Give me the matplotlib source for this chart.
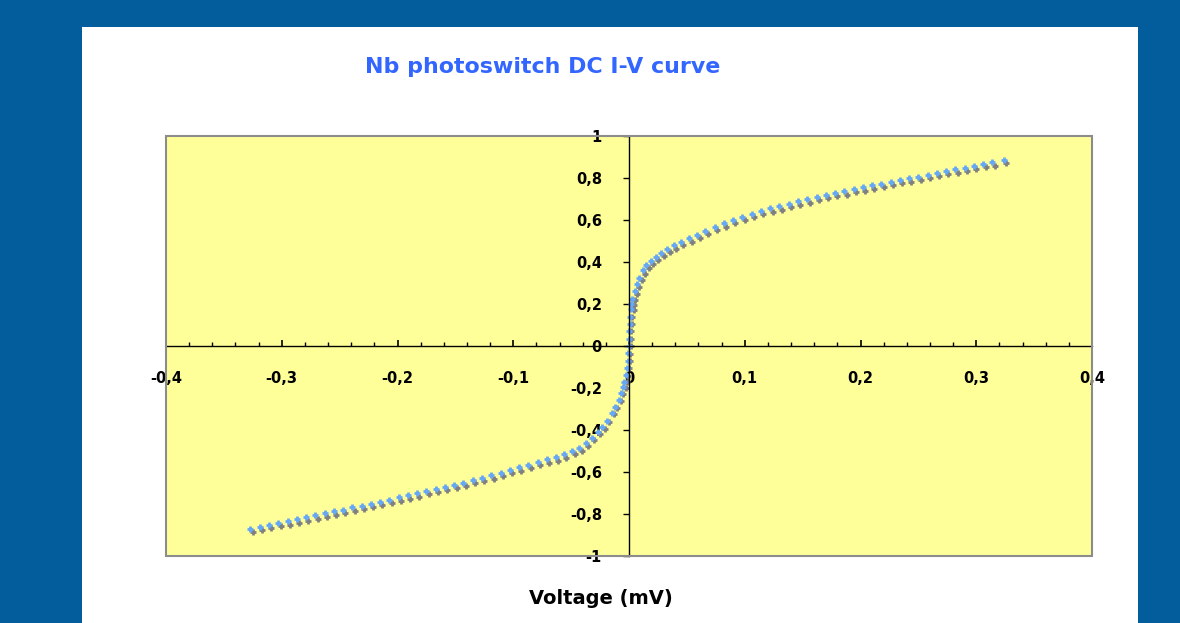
import matplotlib
matplotlib.use('Agg')
import matplotlib.pyplot as plt
from matplotlib.patches import Rectangle
from matplotlib.ticker import MultipleLocator, FuncFormatter

# sweep 1 (blue) : voltage (mV) / current
blue_v = [
    -0.327, -0.319, -0.311, -0.303, -0.295, -0.287, -0.279, -0.271, -0.263, -0.255,
    -0.247, -0.239, -0.231, -0.223, -0.215, -0.207, -0.199, -0.191, -0.183, -0.175,
    -0.167, -0.159, -0.151, -0.143, -0.135, -0.127, -0.119, -0.111, -0.103, -0.095,
    -0.087, -0.079, -0.071, -0.063, -0.056, -0.049, -0.043, -0.037, -0.032, -0.027,
    -0.023, -0.019, -0.015, -0.012, -0.009, -0.007, -0.005, -0.004, -0.003, -0.002,
    -0.001, -0.001,
    0.000, 0.000, 0.000, 0.001, 0.001, 0.002, 0.002, 0.003, 0.005, 0.007,
    0.009, 0.012, 0.015, 0.019, 0.023, 0.028, 0.033, 0.039,
    0.045, 0.052, 0.059, 0.066,
    0.074, 0.082, 0.090, 0.098, 0.106, 0.114, 0.122, 0.130, 0.138, 0.146,
    0.154, 0.162, 0.170, 0.178, 0.186, 0.194, 0.202, 0.210, 0.218, 0.226,
    0.234, 0.242, 0.250, 0.258, 0.266, 0.274, 0.282, 0.290, 0.298, 0.306,
    0.314, 0.324]
blue_i = [
    -0.870, -0.861, -0.852, -0.843, -0.834, -0.825, -0.816, -0.807, -0.797, -0.788,
    -0.779, -0.769, -0.760, -0.750, -0.741, -0.731, -0.721, -0.711, -0.701, -0.691,
    -0.681, -0.672, -0.661, -0.650, -0.638, -0.627, -0.615, -0.603, -0.591, -0.578,
    -0.566, -0.553, -0.540, -0.530, -0.515, -0.500, -0.484, -0.462, -0.438, -0.410,
    -0.385, -0.355, -0.320, -0.290, -0.255, -0.225, -0.195, -0.170, -0.140, -0.105,
    -0.070, -0.035,
    0.000, 0.035, 0.070, 0.105, 0.140, 0.175, 0.200, 0.225, 0.260, 0.295,
    0.325, 0.360, 0.385, 0.405, 0.425, 0.445, 0.462, 0.480,
    0.495, 0.512, 0.530, 0.548,
    0.567, 0.585, 0.602, 0.616, 0.630, 0.643, 0.655, 0.666, 0.678, 0.689,
    0.699, 0.709, 0.719, 0.728, 0.737, 0.747, 0.756, 0.765, 0.773, 0.782,
    0.790, 0.799, 0.807, 0.816, 0.824, 0.833, 0.841, 0.850, 0.858, 0.867,
    0.875, 0.886]

# sweep 2 (grey)
grey_v = [
    -0.325, -0.317, -0.309, -0.301, -0.293, -0.285, -0.277, -0.269, -0.261, -0.253,
    -0.245, -0.237, -0.229, -0.221, -0.213, -0.205, -0.197, -0.189, -0.181, -0.173,
    -0.165, -0.157, -0.149, -0.141, -0.133, -0.125, -0.117, -0.109, -0.101, -0.093,
    -0.085, -0.077, -0.069, -0.061, -0.054, -0.047, -0.041, -0.035, -0.030, -0.025,
    -0.021, -0.017, -0.013, -0.010, -0.007, -0.005, -0.003, -0.002, -0.001, 0.000,
    0.001, 0.001,
    0.002, 0.002, 0.002, 0.003, 0.003, 0.004, 0.004, 0.005, 0.007, 0.009,
    0.011, 0.014, 0.017, 0.021, 0.025, 0.030, 0.035, 0.041,
    0.047, 0.054, 0.061, 0.068,
    0.076, 0.084, 0.092, 0.100, 0.108, 0.116, 0.124, 0.132, 0.140, 0.148,
    0.156, 0.164, 0.172, 0.180, 0.188, 0.196, 0.204, 0.212, 0.220, 0.228,
    0.236, 0.244, 0.252, 0.260, 0.268, 0.276, 0.284, 0.292, 0.300, 0.308,
    0.316, 0.326]
grey_i = [
    -0.886, -0.877, -0.868, -0.859, -0.850, -0.841, -0.832, -0.823, -0.813, -0.804,
    -0.795, -0.785, -0.776, -0.766, -0.757, -0.747, -0.737, -0.727, -0.717, -0.707,
    -0.697, -0.688, -0.677, -0.666, -0.654, -0.643, -0.631, -0.619, -0.607, -0.594,
    -0.582, -0.569, -0.556, -0.546, -0.531, -0.516, -0.498, -0.474, -0.448, -0.420,
    -0.393, -0.362, -0.326, -0.295, -0.260, -0.229, -0.198, -0.172, -0.142, -0.107,
    -0.072, -0.036,
    0.000, 0.035, 0.070, 0.105, 0.140, 0.172, 0.195, 0.218, 0.250, 0.283,
    0.312, 0.345, 0.370, 0.390, 0.410, 0.429, 0.446, 0.464,
    0.479, 0.496, 0.514, 0.532,
    0.551, 0.569, 0.586, 0.600, 0.614, 0.627, 0.639, 0.650, 0.662, 0.673,
    0.683, 0.693, 0.703, 0.712, 0.721, 0.731, 0.740, 0.749, 0.757, 0.766,
    0.774, 0.783, 0.791, 0.800, 0.808, 0.817, 0.825, 0.834, 0.842, 0.851,
    0.859, 0.870]

title = 'Nb photoswitch DC I-V curve'
xlabel = 'Voltage (mV)'

plt.rcParams['font.family'] = 'DejaVu Sans'

fig = plt.figure(figsize=(11.8, 6.23), dpi=100)
fig.patch.set_facecolor('#035C9B')
# white slide panel, behind the axes
fig.patches.append(Rectangle((82 / 1180, 0), (1138 - 82) / 1180, (623 - 27) / 623,
                             transform=fig.transFigure, facecolor='white',
                             edgecolor='none', zorder=-10))

ax = fig.add_axes([166 / 1180, 67 / 623, 926 / 1180, 420 / 623])
ax.set_zorder(1)
ax.set_facecolor('#FFFF99')

ax.plot(grey_v, grey_i, linestyle='none', marker='+', ms=5, mew=2.0, color='#808080')
ax.plot(blue_v, blue_i, linestyle='none', marker='+', ms=5, mew=2.0, color='#66A8F5')

ax.set_xlim(-0.4, 0.4)
ax.set_ylim(-1, 1)

ax.spines['left'].set_position(('data', 0))
ax.spines['bottom'].set_position(('data', 0))
ax.spines['top'].set_visible(False)
ax.spines['right'].set_visible(False)
for s in ('left', 'bottom'):
    ax.spines[s].set_color('black')
    ax.spines[s].set_linewidth(1.0)
ax.add_patch(Rectangle((0, 0), 1, 1, transform=ax.transAxes, fill=False,
                       edgecolor='#8C8C8C', linewidth=1.5, clip_on=False, zorder=5))

fmt = FuncFormatter(lambda v, p: f"{round(v, 2):g}".replace('.', ','))
ax.xaxis.set_major_locator(MultipleLocator(0.1))
ax.xaxis.set_minor_locator(MultipleLocator(0.02))
ax.yaxis.set_major_locator(MultipleLocator(0.2))
ax.xaxis.set_major_formatter(fmt)
ax.yaxis.set_major_formatter(fmt)
ax.tick_params(axis='x', which='major', direction='in', length=4.5, width=1.2, pad=18,
               labelsize=10.5)
ax.tick_params(axis='x', which='minor', direction='in', length=3, width=1)
ax.tick_params(axis='y', which='major', direction='out', length=4.5, width=1, pad=15,
               labelsize=10.5)
for lab in ax.get_xticklabels() + ax.get_yticklabels():
    lab.set_fontweight('bold')

fig.text(543 / 1180, 1 - 67 / 623, title, ha='center', va='center',
         fontsize=15.9, fontweight='bold', color='#3366FF')
fig.text(601 / 1180, 1 - 598 / 623, xlabel, ha='center', va='center',
         fontsize=14, fontweight='bold', color='black')

fig.savefig('out.png', dpi=100, facecolor=fig.get_facecolor())
